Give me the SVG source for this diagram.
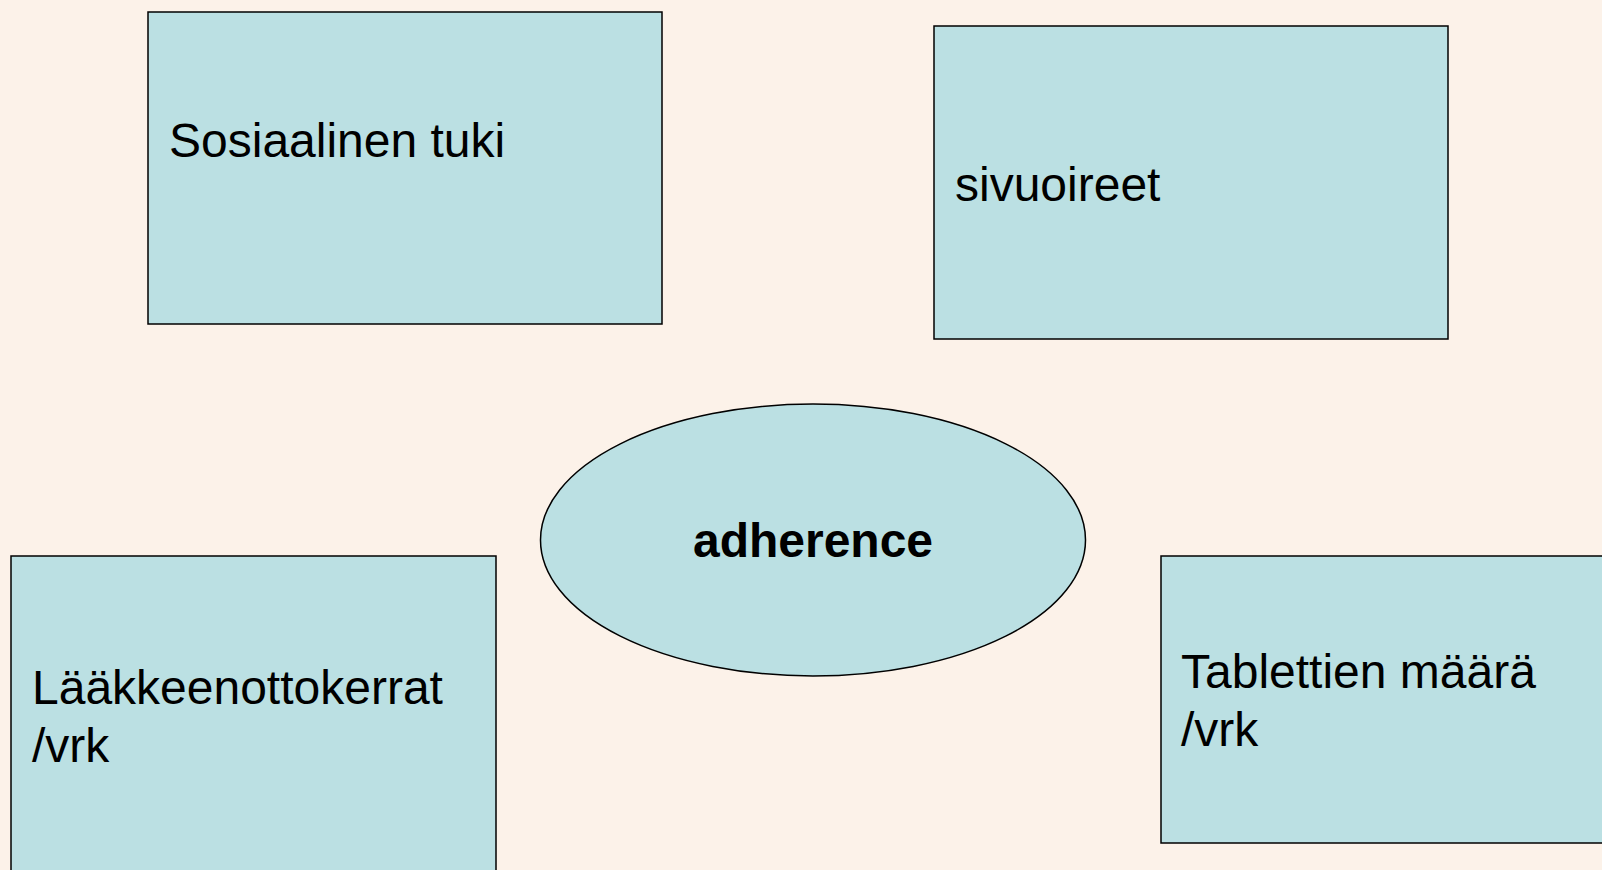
<svg xmlns="http://www.w3.org/2000/svg" width="1602" height="870" viewBox="0 0 1602 870">
<style>
.bg{fill:#FCF2E9}
.node{fill:#BBE0E3;stroke:#000;stroke-width:1.5}
.t{font-family:"Liberation Sans",Arial,sans-serif;font-size:48px;fill:#000}
.b{font-weight:bold}
</style>
<rect class="bg" x="0" y="0" width="1602" height="870"/>
<g id="connectors"></g>
<g id="sosiaalinen">
<rect class="node" x="148" y="12" width="514" height="312"/>
<text class="t" x="169" y="157">Sosiaalinen tuki</text>
</g>
<g id="sivuoireet">
<rect class="node" x="934" y="26" width="514" height="313"/>
<text class="t" x="955" y="201">sivuoireet</text>
</g>
<g id="adherence">
<ellipse class="node" cx="813" cy="540" rx="272.5" ry="136"/>
<text class="t b" x="813" y="557" text-anchor="middle">adherence</text>
</g>
<g id="laakkeenotto">
<rect class="node" x="11" y="556" width="485" height="330"/>
<text class="t" x="32" y="704">Lääkkeenottokerrat</text>
<text class="t" x="32" y="762">/vrk</text>
</g>
<g id="tablettien">
<rect class="node" x="1161" y="556" width="460" height="287"/>
<text class="t" x="1181" y="688">Tablettien määrä</text>
<text class="t" x="1181" y="746">/vrk</text>
</g>
</svg>
